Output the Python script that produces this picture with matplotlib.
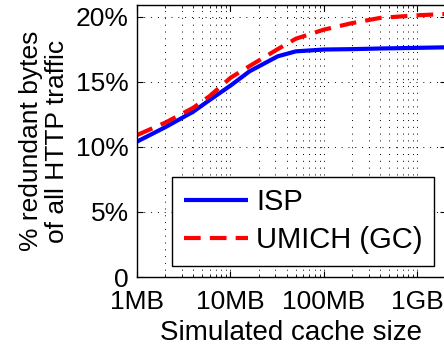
import matplotlib
matplotlib.use("Agg")
import matplotlib.pyplot as plt
from matplotlib.ticker import FixedLocator, FixedFormatter, LogLocator, NullFormatter

plt.rcParams['font.family'] = ['Liberation Sans', 'DejaVu Sans']

# Simulated cache size (MB) and redundant-byte percentages
cache_mb = [1, 2, 4, 6, 10, 16, 32, 50, 100, 200, 400, 1000, 2000]
isp = [10.4, 11.5, 12.7, 13.6, 14.7, 15.8, 16.95, 17.33, 17.47, 17.5, 17.55, 17.6, 17.64]
umich = [10.9, 11.85, 13.0, 13.9, 15.3, 16.2, 17.5, 18.3, 19.0, 19.5, 19.9, 20.1, 20.2]

x_ticks = [1, 10, 100, 1000]
x_labels = ['1MB', '10MB', '100MB', '1GB']
y_ticks = [0, 5, 10, 15, 20]
y_labels = ['0', '5%', '10%', '15%', '20%']

fig = plt.figure(figsize=(4.44, 3.48), dpi=100)
ax = fig.add_axes([0.3086, 0.204, 0.695, 0.782])

ax.plot(cache_mb, isp, color='#0000ff', lw=3, label='ISP', solid_capstyle='butt')
ax.plot(cache_mb, umich, color='#ff0000', lw=3, ls=(0, (4, 2.2)), label='UMICH (GC)')

ax.set_xscale('log')
ax.set_xlim(1, 2000)
ax.set_ylim(0, 20.9)

ax.xaxis.set_major_locator(FixedLocator(x_ticks))
ax.xaxis.set_major_formatter(FixedFormatter(x_labels))
ax.xaxis.set_minor_locator(LogLocator(base=10, subs=range(2, 10), numticks=30))
ax.xaxis.set_minor_formatter(NullFormatter())
ax.yaxis.set_major_locator(FixedLocator(y_ticks))
ax.yaxis.set_major_formatter(FixedFormatter(y_labels))

ax.tick_params(which='both', direction='in', top=True, right=True, labelsize=19)
ax.tick_params(which='major', length=4, width=0.8)
ax.tick_params(axis='x', which='major', pad=9)
ax.tick_params(axis='y', which='major', pad=6)
ax.tick_params(which='minor', length=2.5, width=0.6)

grid_style = dict(color='black', linestyle=(0, (1, 6)), linewidth=0.7)
ax.grid(True, which='major', axis='both', **grid_style)
ax.grid(True, which='minor', axis='x', **grid_style)
ax.set_axisbelow(True)

for sp in ax.spines.values():
    sp.set_linewidth(1.0)

ax.set_xlabel('Simulated cache size', fontsize=20, labelpad=5)
ax.set_ylabel('% redundant bytes\nof all HTTP traffic', fontsize=19, linespacing=1.1)
ax.yaxis.set_label_coords(-0.22, 0.5)

leg = ax.legend(loc='lower left', bbox_to_anchor=(0.114, 0.04), borderaxespad=0,
                fontsize=21, handlelength=2.2, handletextpad=0.28, labelspacing=0.35,
                borderpad=0.4, fancybox=False, framealpha=1, edgecolor='black')
leg.get_frame().set_linewidth(1.0)

fig.savefig('out.png', dpi=100)
